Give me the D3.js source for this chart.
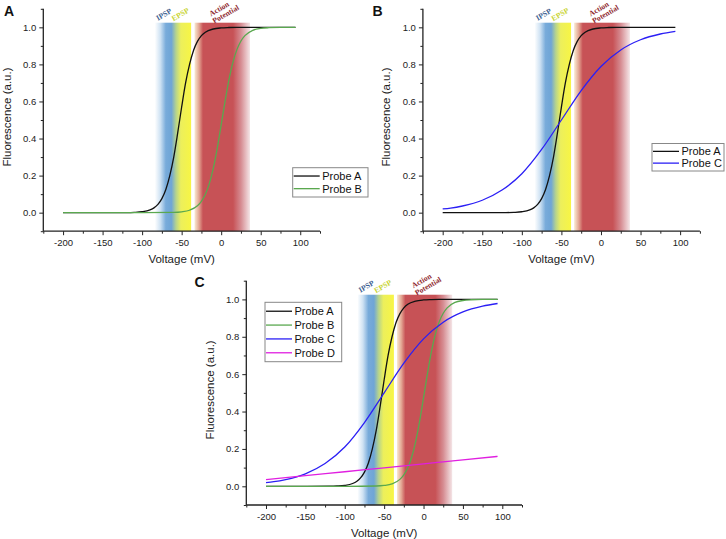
<!DOCTYPE html>
<html><head><meta charset="utf-8">
<script src="https://cdn.jsdelivr.net/npm/d3@7"></script>
<style>
html,body{margin:0;padding:0;background:#fff;}
svg text{font-family:"Liberation Sans",Arial,sans-serif;}
</style></head>
<body><svg id="c" width="726" height="539"></svg>
<script>
// ---------- data ----------
const xMajorTicks = [-200, -150, -100, -50, 0, 50, 100];
const xMinorTicks = [-225, -175, -125, -75, -25, 25, 75, 125];
const yMajorTicks = [0, 0.2, 0.4, 0.6, 0.8, 1.0];
const yMinorTicks = [-0.1, 0.1, 0.3, 0.5, 0.7, 0.9, 1.1];

const probeA = [[-200,0],[-150,0],[-120,0.0006],[-110,0.0017],[-100,0.005],[-90,0.015],[-85,0.026],[-80,0.045],[-75,0.076],[-70,0.125],[-65,0.2],[-60,0.30],[-55,0.43],[-50,0.57],[-45,0.70],[-40,0.80],[-35,0.875],[-30,0.924],[-25,0.955],[-20,0.974],[-10,0.991],[0,0.997],[10,0.999],[20,1.0],[50,1.0],[94,1.0]];
const probeB = [[-200,0],[-150,0],[-100,0],[-60,0.0016],[-50,0.0046],[-40,0.013],[-30,0.037],[-25,0.061],[-20,0.099],[-15,0.157],[-10,0.239],[-5,0.347],[0,0.474],[5,0.603],[10,0.72],[15,0.814],[20,0.881],[25,0.926],[30,0.955],[40,0.984],[50,0.994],[60,0.998],[75,1.0],[94,1.0]];
const probeC = [[-200,0.02],[-190,0.0245],[-175,0.036],[-150,0.067],[-125,0.122],[-100,0.21],[-75,0.341],[-50,0.5],[-25,0.659],[0,0.789],[25,0.878],[50,0.933],[75,0.964],[94,0.978]];
const probeD = [[-200,0.036],[-150,0.057],[-100,0.078],[-50,0.099],[0,0.12],[50,0.141],[94,0.16]];

const seriesNames = ["Probe A","Probe B","Probe C","Probe D"];
const seriesData = [probeA, probeB, probeC, probeD];
const seriesColors = ["#111111","#5aa84f","#2b1ff5","#e01fe0"];

// membrane-potential bands (mV)
const bandStart = -84, bandEnd = 37, bandTop = 1.025;
const bandStops = [[-84,"#ffffff"],[-77,"#cfe2f3"],[-70,"#78abda"],[-63,"#6fa5d6"],[-57,"#b7d48c"],[-51,"#ecef5c"],[-38.2,"#f7f545"],[-37.6,"#fffbe8"],[-37,"#ffffff"],[-34,"#ffffff"],[-33.4,"#f8e6cf"],[-28,"#e3a491"],[-23,"#c75256"],[15,"#c75256"],[25,"#d68c92"],[36,"#f3e2e4"],[37,"#ffffff"]];
const bandLabels = [
  {lines:["IPSP"], x:-71, y:1.058, color:"#3e5f90"},
  {lines:["EPSP"], x:-50, y:1.058, color:"#c8d432"},
  {lines:["Action","Potential"], x:-1, y:1.088, color:"#8e1f2c"}
];

// ---------- layout ----------
const panels = [
  {id:"A", left:43.3, right:320, top:8.8, bottom:231.2, series:[0,1],
   legend:{x:292.7, y:167.7, w:75.3, h:29.3}, labelX:4, labelY:15.5},
  {id:"B", left:422.9, right:699.9, top:8.8, bottom:231.2, series:[0,2],
   legend:{x:652, y:143.5, w:72, h:27.5}, labelX:372.5, labelY:15.5},
  {id:"C", left:246.3, right:522, top:280.7, bottom:505, series:[0,1,2,3],
   legend:{x:265, y:302.3, w:76.7, h:59.4}, labelX:194.5, labelY:287}
];

const svg = d3.select("#c");
const defs = svg.append("defs");

panels.forEach((p, pi) => {
  const x = d3.scaleLinear().domain([-225,125]).range([p.left,p.right]);
  const y = d3.scaleLinear().domain([-0.1,1.1]).range([p.bottom,p.top]);
  const g = svg.append("g");

  // band gradient
  const gid = "band"+pi;
  const grad = defs.append("linearGradient").attr("id",gid)
    .attr("gradientUnits","userSpaceOnUse")
    .attr("x1",x(bandStart)).attr("x2",x(bandEnd)).attr("y1",0).attr("y2",0);
  bandStops.forEach(s => grad.append("stop")
    .attr("offset",(s[0]-bandStart)/(bandEnd-bandStart)).attr("stop-color",s[1]));
  g.append("rect").attr("x",x(bandStart)).attr("width",x(bandEnd)-x(bandStart))
    .attr("y",y(bandTop)).attr("height",y(-0.1)-y(bandTop)).attr("fill","url(#"+gid+")");

  // band labels
  bandLabels.forEach(b => {
    const t = g.append("text").attr("transform",`translate(${x(b.x)},${y(b.y)}) rotate(-30)`)
      .attr("text-anchor","middle").attr("fill",b.color)
      .style("font-family","'Liberation Serif','Times New Roman',serif")
      .style("font-weight","bold").style("font-size","7.6px");
    b.lines.forEach((l,i)=>t.append("tspan").attr("x",i*3).attr("dy",i===0?0:7.8).text(l));
  });

  // curves
  const line = d3.line().x(d=>x(d[0])).y(d=>y(d[1])).curve(d3.curveMonotoneX);
  p.series.forEach(si => {
    g.append("path").datum(seriesData[si]).attr("d",line).attr("fill","none")
      .attr("stroke",seriesColors[si]).attr("stroke-width",1.3);
  });

  // axes
  const xAxis = d3.axisBottom(x).tickValues(xMajorTicks).tickSize(4).tickPadding(4)
    .tickFormat(d=>String(d));
  const xa = g.append("g").attr("transform",`translate(0,${p.bottom})`).call(xAxis);
  xa.select(".domain").attr("d",`M${p.left},0H${p.right}`);
  const xm = g.append("g").attr("transform",`translate(0,${p.bottom})`)
    .call(d3.axisBottom(x).tickValues(xMinorTicks).tickSize(2.5).tickFormat(""));
  xm.select(".domain").remove();

  const yAxis = d3.axisLeft(y).tickValues(yMajorTicks).tickSize(4).tickPadding(3)
    .tickFormat(d3.format(".1f"));
  const ya = g.append("g").attr("transform",`translate(${p.left},0)`).call(yAxis);
  ya.select(".domain").attr("d",`M0,${p.top}V${p.bottom}`);
  const ym = g.append("g").attr("transform",`translate(${p.left},0)`)
    .call(d3.axisLeft(y).tickValues(yMinorTicks).tickSize(2.5).tickFormat(""));
  ym.select(".domain").remove();

  svg.selectAll(".domain").attr("stroke","#222").attr("stroke-width",1.3);
  svg.selectAll(".tick line").attr("stroke","#222").attr("stroke-width",1);
  [xa,ya].forEach(a=>a.selectAll("text").style("font-size","9.5px").attr("fill","#222")
    .style("font-family","'Liberation Sans',Arial,sans-serif"));

  // axis titles
  g.append("text").attr("x",(p.left+p.right)/2).attr("y",p.bottom+28)
    .attr("text-anchor","middle").attr("dominant-baseline","central")
    .style("font-size","11.5px").attr("fill","#222").text("Voltage (mV)");
  g.append("text").attr("transform",`translate(${p.left-36.5},${(p.top+p.bottom)/2-3}) rotate(-90)`)
    .attr("text-anchor","middle").attr("dominant-baseline","central")
    .style("font-size","11.5px").attr("fill","#222").text("Fluorescence (a.u.)");

  // panel letter
  g.append("text").attr("x",p.labelX).attr("y",p.labelY)
    .style("font-size","14px").style("font-weight","bold").attr("fill","#111").text(p.id);

  // legend
  const L = p.legend;
  const lg = g.append("g");
  lg.append("rect").attr("x",L.x).attr("y",L.y).attr("width",L.w).attr("height",L.h)
    .attr("fill","#fff").attr("stroke","#888").attr("stroke-width",1);
  const step = (L.h-4)/p.series.length;
  p.series.forEach((si,i)=>{
    const cy = L.y+2+step*(i+0.5);
    lg.append("line").attr("x1",L.x+1).attr("x2",L.x+27).attr("y1",cy).attr("y2",cy)
      .attr("stroke",seriesColors[si]).attr("stroke-width",1.3);
    lg.append("text").attr("x",L.x+29.5).attr("y",cy).attr("dominant-baseline","central")
      .style("font-size","11px").attr("fill","#111").text(seriesNames[si]);
  });
});
</script></body></html>
